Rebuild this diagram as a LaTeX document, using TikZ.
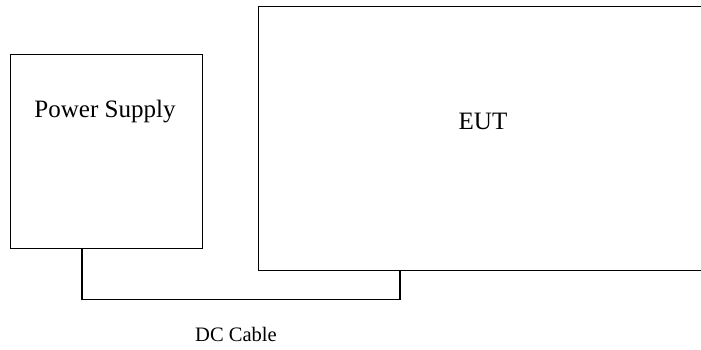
\documentclass[tikz,border=0pt]{standalone}
\usepackage{fontspec}
\setmainfont{Liberation Serif}
\usetikzlibrary{positioning}

\begin{document}
\begin{tikzpicture}[
  x=0.025cm, y=-0.025cm,
  unit/.style={rectangle, draw, line width=0.9pt, inner sep=0pt},
  lab/.style={anchor=base, inner sep=0pt, font=\fontsize{17.8}{20}\selectfont},
  cablelab/.style={anchor=base, inner sep=0pt, font=\fontsize{14.6}{17}\selectfont},
  cable/.style={line width=0.9pt}
]
\clip (0,0) rectangle (701,349);
\node[unit, minimum width=4.8cm, minimum height=4.85cm, anchor=north west] (ps) at (10,54) {};
\node[unit, minimum width=11.3cm, minimum height=6.6cm, anchor=north west] (eut) at (258,6) {};
\node[lab] (pslab) at (105,117) {Power Supply};
\node[lab] (eutlab) at (483,129) {EUT};
\node[cablelab] (dclab) at (236,341) {DC Cable};
\path (ps.south west) ++(72,0) coordinate (pstap);
\path (eut.south west) ++(142,0) coordinate (euttap);
\draw[cable] (pstap) -- ++(0,50) -| (euttap);
\end{tikzpicture}
\end{document}
